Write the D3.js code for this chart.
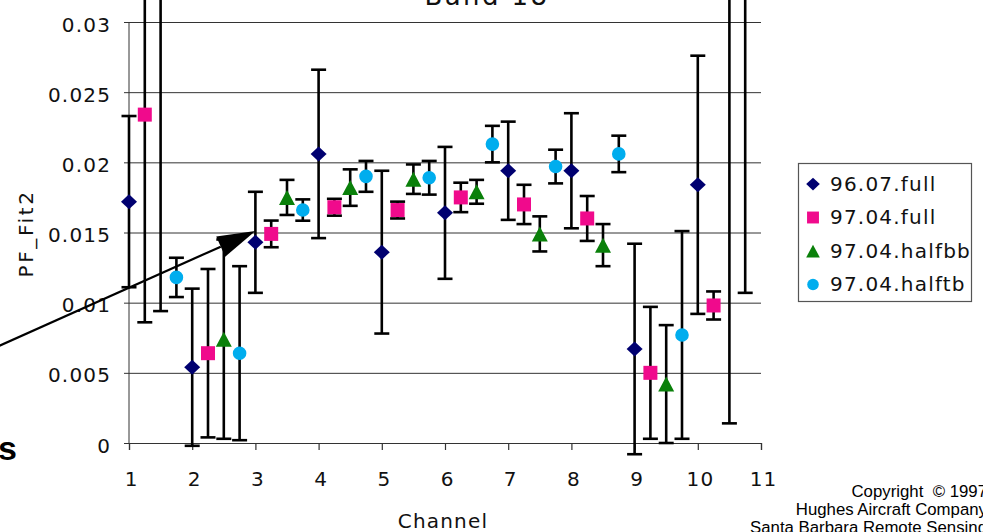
<!DOCTYPE html>
<html>
<head>
<meta charset="utf-8">
<script src="https://cdn.jsdelivr.net/npm/d3@7"></script>
<style>
  body { margin: 0; background: #fff; }
  svg { display: block; }
</style>
</head>
<body>
<svg id="chart" width="983" height="532"></svg>
<script>
// Band 18: PF_Fit2 per channel, four measurement runs with ± error bars
const channels = [1, 2, 3, 4, 5, 6, 7, 8, 9, 10];
const seriesNames = ["96.07.full", "97.04.full", "97.04.halfbb", "97.04.halftb"];

const full9607    = [0.0172, 0.0054, 0.0143, 0.0206, 0.0136, 0.0164, 0.0194, 0.0194, 0.0067, 0.0184];
const full9607Err = [0.0061, 0.0056, 0.0036, 0.0060, 0.0058, 0.0047, 0.0035, 0.0041, 0.0075, 0.0092];

const full9704    = [0.0234, 0.0064, 0.0149, 0.0168, 0.0166, 0.0175, 0.0170, 0.0160, 0.0050, 0.0098];
const full9704Err = [0.0148, 0.0060, 0.00095, 0.0006, 0.0006, 0.00105, 0.0014, 0.0016, 0.0047, 0.0010];

const halfbb9704    = [0.0335, 0.0074, 0.0175, 0.0182, 0.0188, 0.0179, 0.0149, 0.0141, 0.0042, 0.0368];
const halfbb9704Err = [0.0241, 0.0071, 0.00125, 0.0013, 0.00105, 0.00085, 0.00125, 0.0015, 0.0042, 0.0354];

const halftb9704    = [0.0118, 0.0064, 0.0166, 0.0190, 0.0189, 0.0213, 0.0197, 0.0206, 0.0077, 0.0352];
const halftb9704Err = [0.0014, 0.0062, 0.00076, 0.0011, 0.0012, 0.0013, 0.0012, 0.0013, 0.0074, 0.0245];

const seriesValues = [full9607, full9704, halfbb9704, halftb9704];
const seriesErrors = [full9607Err, full9704Err, halfbb9704Err, halftb9704Err];
const seriesOffsets = [0, 0.25, 0.5, 0.75];   // horizontal shift within a channel

const xTicks = [1, 2, 3, 4, 5, 6, 7, 8, 9, 10, 11];
const yTicks = [0, 0.005, 0.01, 0.015, 0.02, 0.025, 0.03];
const yTickLabels = ["0", "0.005", "0.01", "0.015", "0.02", "0.025", "0.03"];

// annotation arrow, in data units
const arrowTail = { channel: -1.36, value: 0.0063 };
const arrowTip  = { channel: 3.0,   value: 0.0151 };

const colors  = ["#000070", "#f00a8c", "#0a800a", "#00adee"];
const shapes  = ["diamond", "square", "triangle", "circle"];

const W = 983, H = 532;
const plot = { left: 129, right: 761, top: 22, bottom: 443 };
const labelFont = "'DejaVu Sans', Verdana, sans-serif";

const svg = d3.select("#chart");
svg.append("rect").attr("width", W).attr("height", H).attr("fill", "#fff");

const x = d3.scaleLinear().domain([1, 11]).range([plot.left, plot.right]);
const y = d3.scaleLinear().domain([0, 0.03]).range([plot.bottom, plot.top]);

// marker path generator
function markerPath(shape, s) {
  const p = d3.path();
  if (shape === "diamond") {
    const hw = 8 * s, hh = 7.5 * s;
    p.moveTo(0, -hh); p.lineTo(hw, 0); p.lineTo(0, hh); p.lineTo(-hw, 0); p.closePath();
  } else if (shape === "square") {
    const h = 7 * s;
    p.rect(-h, -h, 2 * h, 2 * h);
  } else if (shape === "triangle") {
    const hw = 8 * s, hh = 7.5 * s;
    p.moveTo(0, -hh); p.lineTo(hw, hh); p.lineTo(-hw, hh); p.closePath();
  } else {
    p.arc(0, 0, 6.8 * s, 0, 2 * Math.PI);
  }
  return p.toString();
}

// horizontal gridlines with outside ticks on the value axis
const yAxis = d3.axisLeft(y).tickValues(yTicks).tickSize(-(plot.right - plot.left)).tickFormat("");
const gy = svg.append("g").attr("transform", `translate(${plot.left},0)`).call(yAxis);
gy.select(".domain").remove();
gy.selectAll(".tick line").attr("stroke", "#333").attr("stroke-width", 1).attr("x1", -5);

// value axis line
svg.append("line")
  .attr("x1", plot.left).attr("x2", plot.left)
  .attr("y1", y(0.03)).attr("y2", y(0))
  .attr("stroke", "#333").attr("stroke-width", 1);

// value tick labels
svg.append("g").selectAll("text").data(yTicks).join("text")
  .attr("x", 111.2)
  .attr("y", d => y(d) + 9.5)
  .attr("text-anchor", "end")
  .attr("font-family", labelFont)
  .attr("font-size", 20)
  .attr("letter-spacing", 1.2)
  .attr("fill", "#111")
  .text((d, i) => yTickLabels[i]);

// channel axis
const xAxis = d3.axisBottom(x).tickValues(xTicks).tickSize(7).tickFormat("");
const gx = svg.append("g").attr("transform", `translate(0,${plot.bottom})`).call(xAxis);
gx.select(".domain").attr("stroke", "#333").attr("stroke-width", 1.2);
gx.selectAll(".tick line").attr("stroke", "#333").attr("stroke-width", 1.2);

svg.append("g").selectAll("text").data(xTicks).join("text")
  .attr("x", d => x(d) + 2.6)
  .attr("y", 486)
  .attr("text-anchor", "middle")
  .attr("font-family", labelFont)
  .attr("font-size", 20)
  .attr("letter-spacing", 1.2)
  .attr("fill", "#111")
  .text(d => d);

// axis titles and chart title
svg.append("text")
  .attr("x", 443).attr("y", 528)
  .attr("text-anchor", "middle")
  .attr("font-family", labelFont).attr("font-size", 20).attr("letter-spacing", 1.2)
  .attr("fill", "#111")
  .text("Channel");

svg.append("text")
  .attr("transform", "translate(33,233.5) rotate(-90)")
  .attr("text-anchor", "middle")
  .attr("font-family", labelFont).attr("font-size", 20).attr("letter-spacing", 2.6)
  .attr("fill", "#111")
  .text("PF_Fit2");

svg.append("text")
  .attr("x", 487).attr("y", 5)
  .attr("text-anchor", "middle")
  .attr("font-family", labelFont).attr("font-size", 26).attr("letter-spacing", 2.4)
  .attr("fill", "#111")
  .text("Band 18");

// error bars and markers, one series at a time
const capHalf = 7.5;
seriesValues.forEach((vals, si) => {
  const pts = channels.map((c, i) => ({
    cx: x(c + seriesOffsets[si]),
    v: vals[i],
    e: seriesErrors[si][i]
  }));
  const g = svg.append("g");
  const bars = g.selectAll("g.bar").data(pts).join("g").attr("class", "bar")
    .attr("stroke", "#000").attr("stroke-width", 2.6);
  bars.append("line")
    .attr("x1", d => d.cx).attr("x2", d => d.cx)
    .attr("y1", d => y(d.v + d.e)).attr("y2", d => y(d.v - d.e));
  bars.append("line")
    .attr("x1", d => d.cx - capHalf).attr("x2", d => d.cx + capHalf)
    .attr("y1", d => y(d.v + d.e)).attr("y2", d => y(d.v + d.e));
  bars.append("line")
    .attr("x1", d => d.cx - capHalf).attr("x2", d => d.cx + capHalf)
    .attr("y1", d => y(d.v - d.e)).attr("y2", d => y(d.v - d.e));

  g.selectAll("path.mk").data(pts.filter(d => d.v <= 0.03)).join("path").attr("class", "mk")
    .attr("transform", d => `translate(${d.cx},${y(d.v)})`)
    .attr("d", markerPath(shapes[si], 1))
    .attr("fill", colors[si]);
});

// annotation arrow
{
  const x0 = x(arrowTail.channel), y0 = y(arrowTail.value);
  const x1 = x(arrowTip.channel),  y1 = y(arrowTip.value);
  const len = Math.hypot(x1 - x0, y1 - y0);
  const ux = (x1 - x0) / len, uy = (y1 - y0) / len;
  const headLen = 38, headHalf = 11;
  const bx = x1 - ux * headLen, by = y1 - uy * headLen;
  svg.append("line")
    .attr("x1", x0).attr("y1", y0).attr("x2", bx).attr("y2", by)
    .attr("stroke", "#000").attr("stroke-width", 2.2);
  const head = d3.path();
  head.moveTo(x1, y1);
  head.lineTo(bx - uy * headHalf, by + ux * headHalf);
  head.lineTo(bx + uy * headHalf, by - ux * headHalf);
  head.closePath();
  svg.append("path").attr("d", head.toString()).attr("fill", "#000");
}

// legend
const legend = svg.append("g");
legend.append("rect")
  .attr("x", 798.5).attr("y", 163.5).attr("width", 173).attr("height", 138)
  .attr("fill", "#fff").attr("stroke", "#555").attr("stroke-width", 1.2);
const legendRows = legend.selectAll("g.row").data(seriesNames).join("g").attr("class", "row")
  .attr("transform", (d, i) => `translate(0,${184 + i * 33.5})`);
legendRows.append("path")
  .attr("transform", "translate(813,0)")
  .attr("d", (d, i) => markerPath(shapes[i], 0.85))
  .attr("fill", (d, i) => colors[i]);
legendRows.append("text")
  .attr("x", 830).attr("y", 6.5)
  .attr("font-family", labelFont).attr("font-size", 20).attr("letter-spacing", 1.2)
  .attr("fill", "#111")
  .text(d => d);

// caption text at the edges
svg.append("text")
  .attr("x", 17).attr("y", 460)
  .attr("text-anchor", "end")
  .attr("font-family", "'Liberation Sans', Arial, sans-serif")
  .attr("font-weight", "bold").attr("font-size", 34)
  .attr("fill", "#000")
  .text("s");

const credit = ["Copyright\u00A0\u00A0\u00A9 1997", "Hughes Aircraft Company", "Santa Barbara Remote Sensing"];
svg.append("g").selectAll("text").data(credit).join("text")
  .attr("x", 987)
  .attr("y", (d, i) => 497 + i * 18)
  .attr("text-anchor", "end")
  .attr("font-family", "'Liberation Sans', Arial, sans-serif")
  .attr("font-size", 16.8)
  .attr("fill", "#000")
  .text(d => d);
</script>
</body>
</html>
